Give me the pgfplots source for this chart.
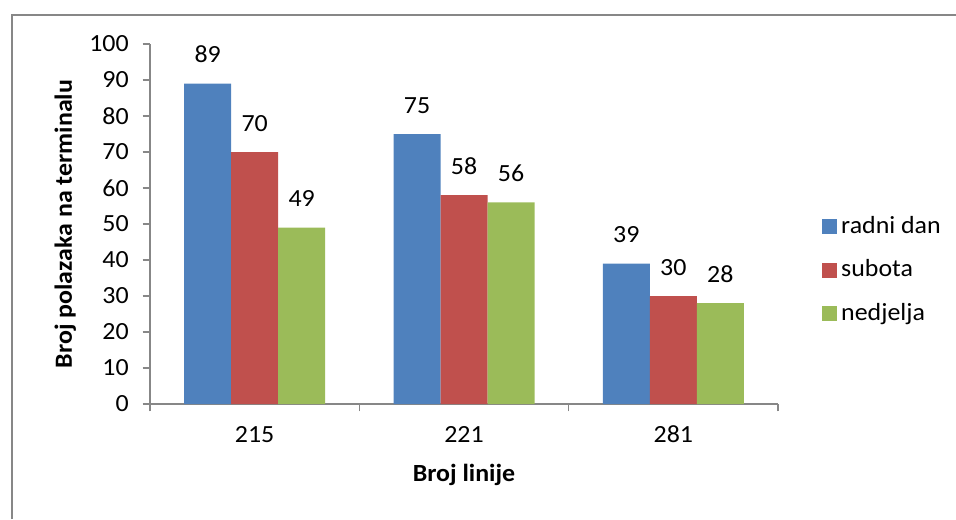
\documentclass[border=0pt]{standalone}
\usepackage{fontspec}
\setmainfont{Carlito}[FakeStretch=1.05]
\usepackage{pgfplots}
\pgfplotsset{compat=1.18}
\definecolor{xblue}{HTML}{4F81BD}
\definecolor{xred}{HTML}{C0504D}
\definecolor{xgreen}{HTML}{9BBB59}
\definecolor{xgray}{HTML}{878787}
\begin{document}
\fontsize{18.5}{22}\selectfont
\begin{tikzpicture}
\useasboundingbox (0,0) rectangle (717pt,389.25pt);
\draw[xgray,line width=1.5pt] (9pt,0) -- (9pt,378pt) -- (717pt,378pt);
\begin{axis}[
    at={(112.5pt,86.25pt)}, anchor=south west,
    scale only axis, width=471pt, height=270pt,
    /pgf/number format/assume math mode=true,
    ybar=0pt, bar width=35.25pt,
    xmin=-0.5, xmax=2.5, ymin=0, ymax=100,
    xtick={0,1,2}, xticklabels={215,221,281},
    minor xtick={-0.5,0.5,1.5,2.5},
    ytick={0,10,...,100},
    axis x line*=bottom, axis y line*=left,
    axis line style={xgray, line width=1pt, -},
    tick align=outside,
    major tick length=5.6pt, minor tick length=5.6pt,
    tick style={xgray, line width=1pt},
    major x tick style={draw=none},
    yticklabel style={xshift=-4pt},
    xticklabel style={anchor=base, yshift=-23pt},
    font=\fontsize{18.5}{22}\selectfont,
    ticklabel style={font=\fontsize{18.5}{22}\selectfont},
    nodes near coords,
    nodes near coords style={anchor=base, yshift=15.75pt, font=\fontsize{18.5}{22}\selectfont, text=black},
    xlabel={Broj linije},
    ylabel={Broj polazaka na terminalu},
    xlabel style={font=\fontsize{18.5}{22}\selectfont\bfseries, at={(axis description cs:0.5,-0.197)}, anchor=center},
    ylabel style={font=\fontsize{18.5}{22}\selectfont\bfseries, at={(axis description cs:-0.135,0.5)}, anchor=center},
    legend style={draw=none, fill=none, at={(rel axis cs:1.070,0.372)}, anchor=west,
        row sep=17pt, inner sep=0pt, font=\fontsize{18.5}{22}\selectfont,
        nodes={inner xsep=3pt, inner ysep=0pt}},
    legend cell align=left,
    legend image code/.code={\fill[#1] (0pt,-5.6pt) rectangle (11.25pt,5.6pt);},
]
\addplot[fill=xblue, draw=none] coordinates {(0,89) (1,75) (2,39)};
\addplot[fill=xred, draw=none] coordinates {(0,70) (1,58) (2,30)};
\addplot[fill=xgreen, draw=none] coordinates {(0,49) (1,56) (2,28)};
\legend{radni dan, subota, nedjelja}
\end{axis}
\end{tikzpicture}
\end{document}
